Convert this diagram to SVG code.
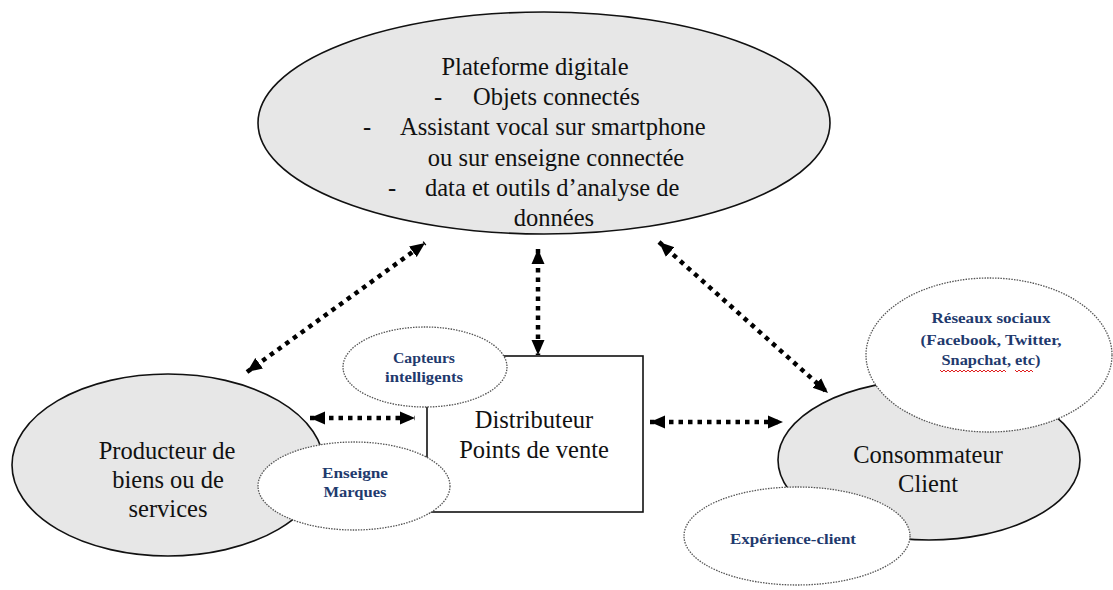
<svg xmlns="http://www.w3.org/2000/svg" width="1113" height="590" viewBox="0 0 1113 590">
<style>
.big{font-family:'Liberation Serif',serif;font-size:24.5px;fill:#111}
.sm{font-family:'Liberation Serif',serif;font-size:14.5px;fill:#1f3a6e;font-weight:bold}
.main{fill:#e7e7e7;stroke:#111;stroke-width:1.6}
.sub{fill:#fff;stroke:#555;stroke-width:1.3;stroke-dasharray:1.5 1.2}
.box{fill:#fff;stroke:#111;stroke-width:1.6}
.con{fill:none;stroke:#000;stroke-width:4.5;stroke-dasharray:4.5 5;marker-start:url(#ah);marker-end:url(#ah)}
.wave{fill:none;stroke:#e02020;stroke-width:1}
</style>
<defs>
<marker id="ah" markerUnits="userSpaceOnUse" markerWidth="16" markerHeight="14" refX="15" refY="6.5" orient="auto-start-reverse" viewBox="0 0 16 13">
<path d="M0,0 L15,6.5 L0,13 z" fill="#000"/>
</marker>
</defs>
<rect width="1113" height="590" fill="#fff"/>

<g id="plateforme">
<ellipse class="main" cx="544" cy="123" rx="286" ry="111"/>
<text class="big" x="535" y="75" text-anchor="middle">Plateforme digitale</text>
<text class="big" x="434" y="105">-</text>
<text class="big" x="473" y="105">Objets connectés</text>
<text class="big" x="363" y="135">-</text>
<text class="big" x="400" y="135">Assistant vocal sur smartphone</text>
<text class="big" x="556" y="166" text-anchor="middle">ou sur enseigne connectée</text>
<text class="big" x="388" y="196">-</text>
<text class="big" x="425" y="196">data et outils d’analyse de</text>
<text class="big" x="554" y="226" text-anchor="middle">données</text>
</g>

<g id="producteur">
<ellipse class="main" cx="168" cy="465" rx="156" ry="91"/>
<text class="big" x="167" y="459" text-anchor="middle">Producteur de</text>
<text class="big" x="168" y="488" text-anchor="middle">biens ou de</text>
<text class="big" x="168" y="517" text-anchor="middle">services</text>
</g>

<g id="distributeur">
<rect class="box" x="427" y="356" width="216" height="156"/>
<text class="big" x="534" y="428" text-anchor="middle">Distributeur</text>
<text class="big" x="534" y="458" text-anchor="middle">Points de vente</text>
</g>

<g id="capteurs">
<ellipse class="sub" cx="425" cy="367" rx="82" ry="40"/>
<text class="sm" x="424" y="363" text-anchor="middle" textLength="62" lengthAdjust="spacingAndGlyphs">Capteurs</text>
<text class="sm" x="424" y="382" text-anchor="middle" textLength="78" lengthAdjust="spacingAndGlyphs">intelligents</text>
</g>

<g id="enseigne">
<ellipse class="sub" cx="354" cy="486" rx="96" ry="44"/>
<text class="sm" x="355" y="478" text-anchor="middle" textLength="66" lengthAdjust="spacingAndGlyphs">Enseigne</text>
<text class="sm" x="355" y="497" text-anchor="middle" textLength="63" lengthAdjust="spacingAndGlyphs">Marques</text>
</g>

<g id="consommateur">
<ellipse class="main" cx="929" cy="460" rx="151" ry="80"/>
<text class="big" x="928" y="463" text-anchor="middle">Consommateur</text>
<text class="big" x="928" y="492" text-anchor="middle">Client</text>
</g>

<g id="reseaux">
<ellipse class="sub" cx="989" cy="355" rx="123" ry="77"/>
<text class="sm" x="991" y="323" text-anchor="middle" textLength="119" lengthAdjust="spacingAndGlyphs">Réseaux sociaux</text>
<text class="sm" x="991" y="345" text-anchor="middle" textLength="141" lengthAdjust="spacingAndGlyphs">(Facebook, Twitter,</text>
<text class="sm" x="991" y="365" text-anchor="middle" textLength="99" lengthAdjust="spacingAndGlyphs">Snapchat, etc)</text>
<path class="wave" d="M940,370 l2,2 l2,-2 l2,2 l2,-2 l2,2 l2,-2 l2,2 l2,-2 l2,2 l2,-2 l2,2 l2,-2 l2,2 l2,-2 l2,2 l2,-2 l2,2 l2,-2 l2,2 l2,-2 l2,2 l2,-2 l2,2 l2,-2 l2,2 l2,-2 l2,2 l2,-2 l2,2 l2,-2 l2,2 l2,-2 l2,2"/>
<path class="wave" d="M1015,370 l2,2 l2,-2 l2,2 l2,-2 l2,2 l2,-2 l2,2 l2,-2 l2,2"/>
</g>

<g id="experience">
<ellipse class="sub" cx="797" cy="536" rx="113" ry="49"/>
<text class="sm" x="793" y="544" text-anchor="middle" textLength="126" lengthAdjust="spacingAndGlyphs">Expérience-client</text>
</g>

<g id="connectors">
<line class="con" x1="247" y1="372" x2="425" y2="243"/>
<line class="con" x1="538" y1="249" x2="538" y2="355"/>
<line class="con" x1="659" y1="242" x2="828" y2="393"/>
<line class="con" x1="310" y1="418" x2="415" y2="418"/>
<line class="con" x1="650" y1="422" x2="783" y2="422"/>
</g>
</svg>
